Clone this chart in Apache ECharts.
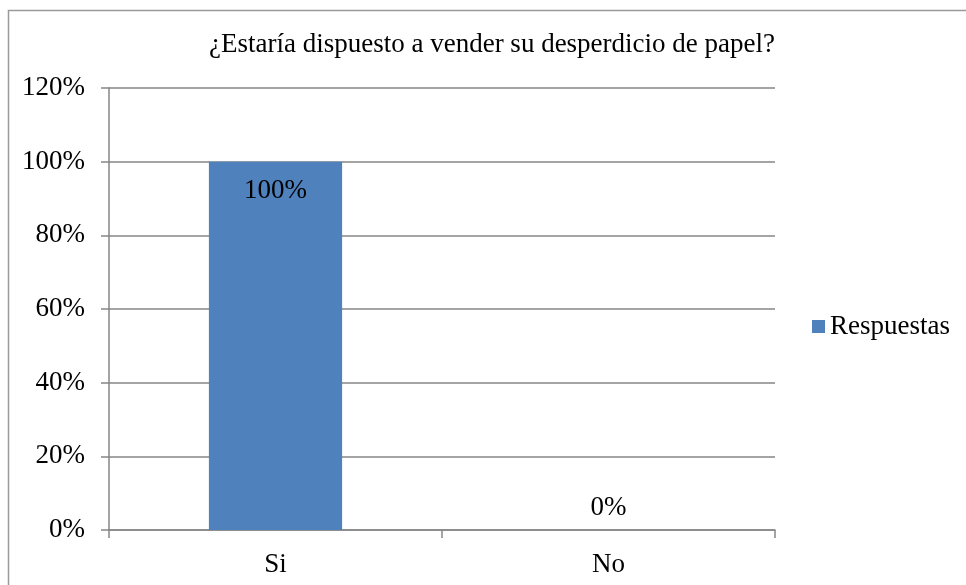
<!DOCTYPE html>
<html>
<head>
<meta charset="utf-8">
<script src="https://cdn.jsdelivr.net/npm/echarts@6/dist/echarts.min.js"></script>
<style>html,body{margin:0;padding:0;background:#fff}#c{width:966px;height:585px}</style>
</head>
<body>
<div id="c"></div>
<script>
var titleText = '¿Estaría dispuesto a vender su desperdicio de papel?';
var categories = ['Si', 'No'];
var seriesName = 'Respuestas';
var values = [100, 0];
var yTicks = [0, 20, 40, 60, 80, 100, 120];

var font = '"Liberation Serif","Times New Roman",serif';
var fs = 27;
var chart = echarts.init(document.getElementById('c'));
chart.setOption({
  animation: false,
  backgroundColor: '#fff',
  graphic: [{
    type: 'rect', silent: true, z: -1,
    shape: { x: 8.5, y: 10.5, width: 1200, height: 1200 },
    style: { fill: 'none', stroke: '#9a9a9a', lineWidth: 1.5 }
  }],
  title: {
    text: titleText, left: 492, top: 31, textAlign: 'center', padding: 0,
    textStyle: { fontFamily: font, fontSize: fs, fontWeight: 'normal', color: '#000' }
  },
  legend: {
    data: [seriesName], left: 812, top: 313, orient: 'vertical', padding: 0,
    itemWidth: 13, itemHeight: 13, icon: 'rect',
    textStyle: { fontFamily: font, fontSize: fs, color: '#000' },
    itemGap: 0
  },
  grid: { left: 109, right: 191, top: 88, bottom: 55, containLabel: false },
  xAxis: {
    type: 'category', data: categories,
    axisLine: { lineStyle: { color: '#868686', width: 1.5 } },
    axisTick: { show: true, length: 8, interval: 0, lineStyle: { color: '#868686', width: 1.5 } },
    axisLabel: { margin: 21, fontFamily: font, fontSize: fs, color: '#000' }
  },
  yAxis: {
    type: 'value', min: yTicks[0], max: yTicks[yTicks.length - 1], interval: yTicks[1] - yTicks[0],
    axisLine: { show: true, lineStyle: { color: '#868686', width: 1.5 } },
    axisTick: { show: true, length: 8, inside: false, lineStyle: { color: '#868686', width: 1.5 } },
    splitLine: { show: true, lineStyle: { color: '#868686', width: 1.5 } },
    axisLabel: { margin: 24, fontFamily: font, fontSize: fs, color: '#000', formatter: '{value}%' }
  },
  series: [{
    name: seriesName, type: 'bar', barWidth: '40%',
    itemStyle: { color: '#4F81BD' },
    label: { show: true, formatter: '{c}%', fontFamily: font, fontSize: fs, color: '#000' },
    data: values.map(function (v) {
      return v > 0
        ? { value: v, label: { position: 'insideTop', distance: 16 } }
        : { value: v, label: { position: 'top', distance: 9 } };
    })
  }]
});
</script>
</body>
</html>
